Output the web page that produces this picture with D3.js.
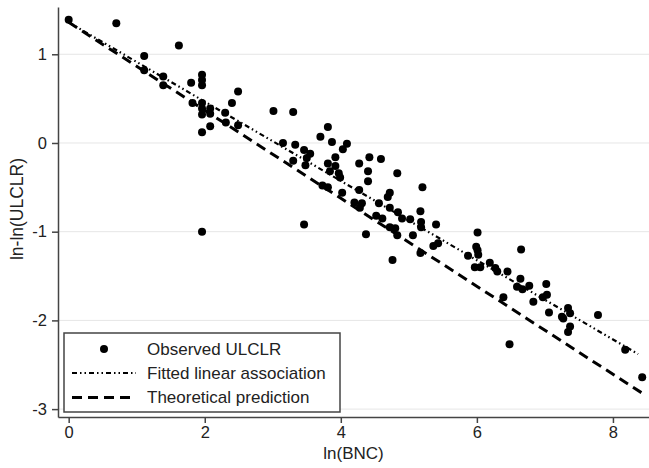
<!DOCTYPE html>
<meta charset="utf-8">
<style>
    body { margin: 0; background: #fff; }
    text { font-family: "Liberation Sans", Arial, sans-serif; fill: #222; }
    .grid line { stroke: #e6e6e6; stroke-width: 1; }
    .axis path, .axis line { stroke: #444; stroke-width: 1.5; }
</style>
<body>
<div id="chart"></div>
<script src="https://d3js.org/d3.v7.min.js"></script>
<script>
    // observed points: ln(BNC), ln-ln(ULCLR)
    var lnBNC = [0.00, 0.70, 1.11, 1.11, 1.62, 1.39, 1.39, 1.80, 1.82, 1.96,
        1.96, 1.96, 1.96, 1.96, 1.96, 1.96, 2.08, 2.08, 2.08, 2.30,
        2.31, 2.40, 2.49, 2.49, 1.96, 3.01, 3.30, 3.15, 3.33, 3.46,
        3.55, 3.50, 3.30, 3.48, 3.70, 3.81, 3.87, 4.03, 4.09, 3.92,
        3.81, 3.92, 3.84, 3.97, 3.99, 3.73, 3.81, 4.02, 3.46, 4.27,
        4.42, 4.59, 4.40, 4.40, 4.83, 4.27, 4.20, 4.31, 4.28, 4.37,
        4.52, 4.61, 4.56, 4.72, 4.69, 4.72, 4.84, 4.90, 5.02, 4.72,
        4.80, 4.83, 4.76, 5.06, 5.20, 5.17, 5.18, 5.18, 5.40, 5.36,
        5.43, 5.17, 6.01, 5.99, 6.01, 5.87, 6.02, 5.97, 6.05, 6.19,
        6.27, 6.30, 6.45, 6.65, 6.64, 6.59, 6.67, 6.77, 6.39, 6.83,
        7.02, 7.03, 6.97, 7.06, 7.34, 7.37, 7.25, 7.27, 7.37, 7.34,
        7.78, 6.48, 8.18, 8.43];
    var lnlnULCLR = [1.39, 1.35, 0.98, 0.82, 1.10, 0.75, 0.65, 0.68, 0.45, 0.77,
        0.71, 0.65, 0.45, 0.39, 0.32, 0.12, 0.39, 0.33, 0.19, 0.34,
        0.23, 0.45, 0.58, 0.20, -1.00, 0.36, 0.35, 0.00, -0.02, -0.08,
        -0.12, -0.17, -0.20, -0.25, 0.07, 0.18, 0.01, -0.07, -0.01, -0.16,
        -0.23, -0.26, -0.32, -0.34, -0.39, -0.48, -0.50, -0.56, -0.92, -0.23,
        -0.16, -0.18, -0.32, -0.43, -0.34, -0.53, -0.67, -0.68, -0.73, -1.03,
        -0.82, -0.85, -0.68, -0.56, -0.61, -0.73, -0.78, -0.85, -0.86, -0.95,
        -0.96, -1.04, -1.32, -1.04, -0.50, -0.77, -0.89, -0.95, -0.92, -1.16,
        -1.13, -1.24, -1.01, -1.17, -1.21, -1.27, -1.26, -1.40, -1.40, -1.35,
        -1.41, -1.45, -1.45, -1.20, -1.53, -1.62, -1.65, -1.61, -1.74, -1.79,
        -1.59, -1.71, -1.74, -1.91, -1.86, -1.92, -1.96, -1.98, -2.07, -2.13,
        -1.94, -2.27, -2.33, -2.64];

    // line endpoints [x0, x1], [y0, y1]
    var fittedX = [0, 8.37], fittedY = [1.36, -2.38];
    var theoryX = [0, 8.45], theoryY = [1.36, -2.83];

    var xTicks = [0, 2, 4, 6, 8];
    var yTicks = [-3, -2, -1, 0, 1];
    var legendLabels = ["Observed ULCLR", "Fitted linear association", "Theoretical prediction"];

    var width = 649, height = 468;
    var plot = {left: 58, right: 649, top: 7, bottom: 417};

    var svg = d3.select("#chart").append("svg")
        .attr("width", width)
        .attr("height", height);

    var x = d3.scaleLinear().domain([-0.157, 8.53]).range([plot.left, plot.right]);
    var y = d3.scaleLinear().domain([-3.089, 1.533]).range([plot.bottom, plot.top]);

    // grid
    svg.append("g")
        .attr("class", "grid")
        .selectAll("line")
        .data(yTicks)
        .enter().append("line")
        .attr("x1", plot.left)
        .attr("x2", plot.right)
        .attr("y1", function (d) { return y(d); })
        .attr("y2", function (d) { return y(d); });

    var points = lnBNC.map(function (d, i) { return {x: d, y: lnlnULCLR[i]}; });

    svg.append("g")
        .selectAll("circle")
        .data(points)
        .enter().append("circle")
        .attr("cx", function (d) { return x(d.x); })
        .attr("cy", function (d) { return y(d.y); })
        .attr("r", 4)
        .attr("fill", "#000");

    var line = d3.line()
        .x(function (d) { return x(d[0]); })
        .y(function (d) { return y(d[1]); });

    var fittedDash = "5,3,1.5,3,1.5,3";
    var theoryDash = "10,6";

    svg.append("path")
        .datum(fittedX.map(function (d, i) { return [d, fittedY[i]]; }))
        .attr("d", line)
        .attr("fill", "none")
        .attr("stroke", "#000")
        .attr("stroke-width", 2.2)
        .attr("stroke-dasharray", fittedDash);

    svg.append("path")
        .datum(theoryX.map(function (d, i) { return [d, theoryY[i]]; }))
        .attr("d", line)
        .attr("fill", "none")
        .attr("stroke", "#000")
        .attr("stroke-width", 3)
        .attr("stroke-dasharray", theoryDash);

    // axes, plain hyphen for negatives like the original
    var fmt = function (d) { return String(d); };

    svg.append("g")
        .attr("class", "axis")
        .attr("transform", "translate(" + plot.left + ",0)")
        .call(d3.axisLeft(y).tickValues(yTicks).tickFormat(fmt).tickSize(6).tickPadding(5).tickSizeOuter(0));

    svg.append("g")
        .attr("class", "axis")
        .attr("transform", "translate(0," + plot.bottom + ")")
        .call(d3.axisBottom(x).tickValues(xTicks).tickFormat(fmt).tickSize(6).tickPadding(3).tickSizeOuter(0));

    svg.selectAll(".axis text")
        .style("font-size", "16.5px")
        .attr("fill", "#222");

    svg.append("text")
        .attr("x", (plot.left + plot.right) / 2)
        .attr("y", 459)
        .attr("text-anchor", "middle")
        .style("font-size", "17px")
        .text("ln(BNC)");

    svg.append("text")
        .attr("transform", "translate(23,209) rotate(-90)")
        .attr("text-anchor", "middle")
        .style("font-size", "17.5px")
        .text("ln-ln(ULCLR)");

    // legend
    var legend = svg.append("g");
    legend.append("rect")
        .attr("x", 64)
        .attr("y", 333)
        .attr("width", 276)
        .attr("height", 79)
        .attr("fill", "#fff")
        .attr("stroke", "#444")
        .attr("stroke-width", 1.5);

    legend.append("circle")
        .attr("cx", 104)
        .attr("cy", 349)
        .attr("r", 4)
        .attr("fill", "#000");

    legend.append("line")
        .attr("x1", 72).attr("x2", 136)
        .attr("y1", 373).attr("y2", 373)
        .attr("stroke", "#000")
        .attr("stroke-width", 2.2)
        .attr("stroke-dasharray", fittedDash);

    legend.append("line")
        .attr("x1", 72).attr("x2", 136)
        .attr("y1", 397.5).attr("y2", 397.5)
        .attr("stroke", "#000")
        .attr("stroke-width", 3)
        .attr("stroke-dasharray", theoryDash);

    legend.selectAll(".lab")
        .data(legendLabels)
        .enter().append("text")
        .attr("class", "lab")
        .attr("x", 147)
        .attr("y", function (d, i) { return 355 + i * 24; })
        .style("font-size", "17px")
        .text(function (d) { return d; });
</script>
</body>
